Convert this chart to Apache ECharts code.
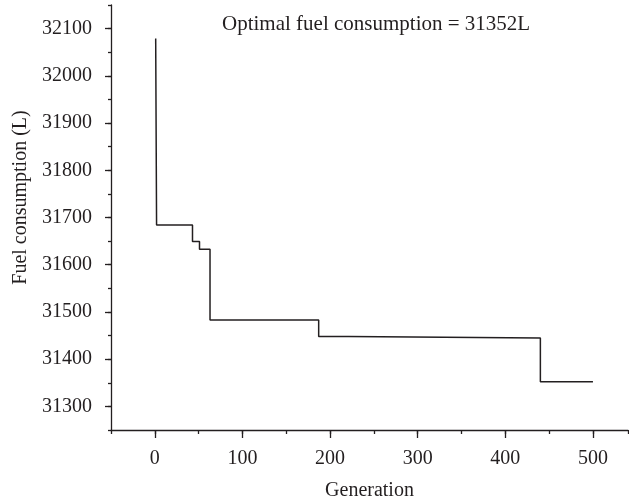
<!DOCTYPE html>
<html>
<head>
<meta charset="utf-8">
<script src="https://cdn.jsdelivr.net/npm/echarts@6/dist/echarts.min.js"></script>
<style>
  html,body{margin:0;padding:0;background:#fff;}
  #chart{width:629px;height:496px;}
</style>
</head>
<body>
<div id="chart"></div>
<script>
// generation where the best value changes, and the best fuel value from there on
var generations=[1, 2, 43, 51, 63, 187, 221, 440, 500];
var fuelValues=[32079, 31684, 31649, 31633, 31483, 31448, 31445, 31352, 31352];
var xMajorTicks=[0, 100, 200, 300, 400, 500];
var yMajorTicks=[31300, 31400, 31500, 31600, 31700, 31800, 31900, 32000, 32100];
var titleText="Optimal fuel consumption = 31352L";

var fontName="Liberation Serif";
var ink="#231f20";

var points=[];
for(var i=0;i<generations.length;i++)
{
  points.push([generations[i],fuelValues[i]]);
}

var chart=echarts.init(document.getElementById('chart'));
var option={
  animation:false,
  backgroundColor:'#fff',
  title:{
    text:titleText,
    left:217,
    top:9,
    textStyle:{fontFamily:fontName,fontSize:21,fontWeight:'normal',color:ink}
  },
  grid:{left:111,right:1,top:5,bottom:66,containLabel:false,outerBoundsMode:'none'},
  xAxis:[
    {
      type:'value',
      min:-50,
      max:540,
      interval:50,
      name:'Generation',
      nameLocation:'middle',
      nameGap:51,
      nameTextStyle:{fontFamily:fontName,fontSize:20,color:ink},
      axisLine:{onZero:false,lineStyle:{color:ink,width:1.3}},
      axisTick:{show:true,length:4,lineStyle:{color:ink,width:1.3}},
      axisLabel:{show:false},
      splitLine:{show:false}
    },
    {
      type:'value',
      position:'bottom',
      min:-50,
      max:540,
      axisLine:{show:false,onZero:false},
      axisTick:{show:true,length:8,customValues:xMajorTicks,lineStyle:{color:ink,width:1.3}},
      axisLabel:{show:true,customValues:xMajorTicks,margin:19,fontFamily:fontName,fontSize:20,color:ink},
      splitLine:{show:false}
    }
  ],
  yAxis:[
    {
      type:'value',
      min:31250,
      max:32150,
      interval:50,
      name:'Fuel consumption (L)',
      nameLocation:'middle',
      nameGap:80,
      nameRotate:90,
      nameTextStyle:{fontFamily:fontName,fontSize:20,color:ink,padding:[0,0,0,40]},
      axisLine:{onZero:false,lineStyle:{color:ink,width:1.3}},
      axisTick:{show:true,length:3,lineStyle:{color:ink,width:1.3}},
      axisLabel:{show:false},
      splitLine:{show:false}
    },
    {
      type:'value',
      position:'left',
      min:31250,
      max:32150,
      axisLine:{show:false,onZero:false},
      axisTick:{show:true,length:6,customValues:yMajorTicks,lineStyle:{color:ink,width:1.3}},
      axisLabel:{
        show:true,
        customValues:yMajorTicks,
        margin:19,
        fontFamily:fontName,
        fontSize:20,
        color:ink,
        formatter:function(v){return String(v);}
      },
      splitLine:{show:false}
    }
  ],
  series:[{
    type:'line',
    step:'end',
    data:points,
    symbol:'none',
    lineStyle:{color:ink,width:1.5}
  }]
};
chart.setOption(option);
</script>
</body>
</html>
